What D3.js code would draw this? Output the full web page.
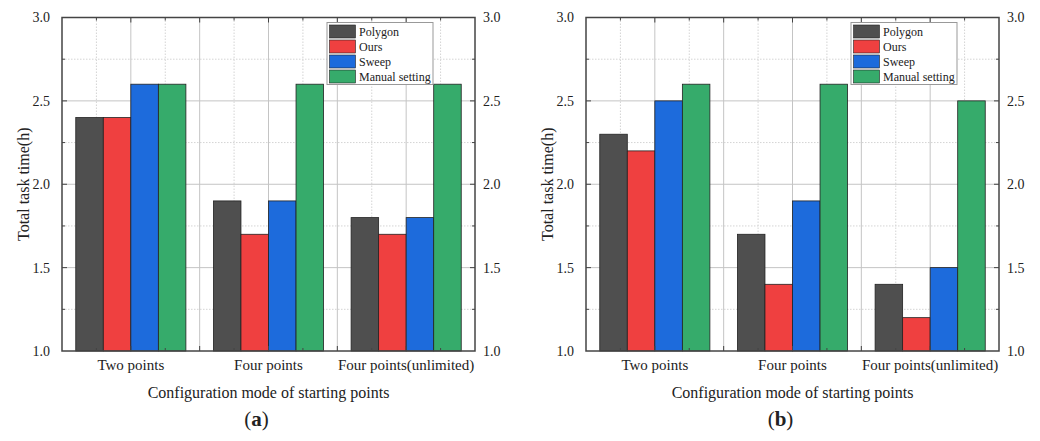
<!DOCTYPE html>
<html>
<head>
<meta charset="utf-8">
<script src="https://cdn.jsdelivr.net/npm/d3@7"></script>
<style>
  body { margin: 0; background: #fff; }
  text { font-family: "Liberation Serif", "Times New Roman", serif; fill: #222; }
</style>
</head>
<body>
<svg id="chart" width="1040" height="441"></svg>
<script>
// data
const categories = ["Two points", "Four points", "Four points(unlimited)"];
const seriesNames = ["Polygon", "Ours", "Sweep", "Manual setting"];
const seriesColors = ["#4f4f4f", "#ef4040", "#1d6bdc", "#36ab6b"];
const valuesA = [
  [2.4, 1.9, 1.8],   // Polygon
  [2.4, 1.7, 1.7],   // Ours
  [2.6, 1.9, 1.8],   // Sweep
  [2.6, 2.6, 2.6]    // Manual setting
];
const valuesB = [
  [2.3, 1.7, 1.4],
  [2.2, 1.4, 1.2],
  [2.5, 1.9, 1.5],
  [2.6, 2.6, 2.5]
];
const yTicks = [1.0, 1.5, 2.0, 2.5, 3.0];
const panelLabels = ["a", "b"];

const svg = d3.select("#chart");
const plotW = 413, plotTop = 17.5, plotBottom = 351;

function drawPanel(values, label, offsetX) {
  const left = 62 + offsetX;
  const g = svg.append("g");

  // x runs over 0..12 units, groups sit at 2, 6, 10
  const x = d3.scaleLinear().domain([0, 12]).range([left, left + plotW]);
  const catPos = d3.scalePoint().domain(categories).range([2, 10]);
  const inner = d3.scaleBand().domain(seriesNames).range([-1.6, 1.6]);
  const y = d3.scaleLinear().domain([1, 3]).range([plotBottom, plotTop]);

  // grid
  const xMinor = d3.range(1, 12, 2), xMajor = d3.range(2, 12, 2);
  const yMinor = [1.25, 1.75, 2.25, 2.75], yMajor = [1.5, 2.0, 2.5];
  g.selectAll(".vgm").data(xMinor).join("line")
    .attr("x1", d => x(d)).attr("x2", d => x(d)).attr("y1", plotTop).attr("y2", plotBottom)
    .attr("stroke", "#d4d4d4").attr("stroke-dasharray", "1.5,1.5");
  g.selectAll(".vgM").data(xMajor).join("line")
    .attr("x1", d => x(d)).attr("x2", d => x(d)).attr("y1", plotTop).attr("y2", plotBottom)
    .attr("stroke", "#c4c4c4");
  g.selectAll(".hgm").data(yMinor).join("line")
    .attr("x1", left).attr("x2", left + plotW).attr("y1", d => y(d)).attr("y2", d => y(d))
    .attr("stroke", "#d4d4d4").attr("stroke-dasharray", "1.5,1.5");
  g.selectAll(".hgM").data(yMajor).join("line")
    .attr("x1", left).attr("x2", left + plotW).attr("y1", d => y(d)).attr("y2", d => y(d))
    .attr("stroke", "#c4c4c4");

  // bars
  seriesNames.forEach((s, si) => {
    g.selectAll(".bar" + si).data(values[si]).join("rect")
      .attr("x", (d, ci) => x(catPos(categories[ci]) + inner(s)))
      .attr("width", x(inner.bandwidth()) - x(0))
      .attr("y", d => y(d))
      .attr("height", d => y(1) - y(d))
      .attr("fill", seriesColors[si])
      .attr("stroke", "#222").attr("stroke-width", 0.8);
  });

  // tick marks, all pointing inward
  const allX = d3.range(1, 12);
  g.selectAll(".tt").data(allX).join("line")
    .attr("x1", d => x(d)).attr("x2", d => x(d))
    .attr("y1", plotTop).attr("y2", d => plotTop + (d % 2 ? 3 : 5))
    .attr("stroke", "#444");
  g.selectAll(".tb").data(allX).join("line")
    .attr("x1", d => x(d)).attr("x2", d => x(d))
    .attr("y1", plotBottom).attr("y2", d => plotBottom - (d % 2 ? 3 : 5))
    .attr("stroke", "#444");
  const allY = [1.25, 1.5, 1.75, 2.0, 2.25, 2.5, 2.75];
  g.selectAll(".tl").data(allY).join("line")
    .attr("x1", left).attr("x2", d => left + (yMinor.includes(d) ? 3 : 5))
    .attr("y1", d => y(d)).attr("y2", d => y(d)).attr("stroke", "#444");
  g.selectAll(".tr").data(allY).join("line")
    .attr("x1", left + plotW).attr("x2", d => left + plotW - (yMinor.includes(d) ? 3 : 5))
    .attr("y1", d => y(d)).attr("y2", d => y(d)).attr("stroke", "#444");

  // frame
  g.append("rect")
    .attr("x", left).attr("y", plotTop).attr("width", plotW).attr("height", plotBottom - plotTop)
    .attr("fill", "none").attr("stroke", "#444").attr("stroke-width", 1.5);

  // y tick labels both sides
  g.selectAll(".yl").data(yTicks).join("text")
    .attr("x", left - 12).attr("y", d => y(d)).attr("dy", "0.35em")
    .attr("text-anchor", "end").style("font-size", "14px")
    .text(d => d.toFixed(1));
  g.selectAll(".yr").data(yTicks).join("text")
    .attr("x", left + plotW + 8).attr("y", d => y(d)).attr("dy", "0.35em")
    .attr("text-anchor", "start").style("font-size", "14px")
    .text(d => d.toFixed(1));

  // category labels
  g.selectAll(".xl").data(categories).join("text")
    .attr("x", d => x(catPos(d))).attr("y", 370)
    .attr("text-anchor", "middle").style("font-size", "15px")
    .text(d => d);

  // axis titles
  g.append("text")
    .attr("x", left + plotW / 2).attr("y", 398)
    .attr("text-anchor", "middle").style("font-size", "16px")
    .text("Configuration mode of starting points");
  g.append("text")
    .attr("transform", `translate(${offsetX + 29},${(plotTop + plotBottom) / 2}) rotate(-90)`)
    .attr("text-anchor", "middle").style("font-size", "16px")
    .text("Total task time(h)");

  // panel label
  const pl = g.append("text")
    .attr("x", left + plotW / 2 - 12).attr("y", 426)
    .attr("text-anchor", "middle").style("font-size", "21px");
  pl.append("tspan").text("(");
  pl.append("tspan").style("font-weight", "bold").text(label);
  pl.append("tspan").text(")");

  // legend
  const lx = left + 265, ly = plotTop + 5;
  const lg = g.append("g").attr("transform", `translate(${lx},${ly})`);
  lg.append("rect").attr("width", 106).attr("height", 62)
    .attr("fill", "#fff").attr("stroke", "#999");
  seriesNames.forEach((s, si) => {
    lg.append("rect")
      .attr("x", 2.5).attr("y", 2.5 + si * 15).attr("width", 26).attr("height", 13)
      .attr("fill", seriesColors[si]).attr("stroke", "#222").attr("stroke-width", 0.6);
    lg.append("text")
      .attr("x", 32).attr("y", 9 + si * 15).attr("dy", "0.35em")
      .style("font-size", "12px").text(s);
  });
}

drawPanel(valuesA, panelLabels[0], 0);
drawPanel(valuesB, panelLabels[1], 524);
</script>
</body>
</html>
